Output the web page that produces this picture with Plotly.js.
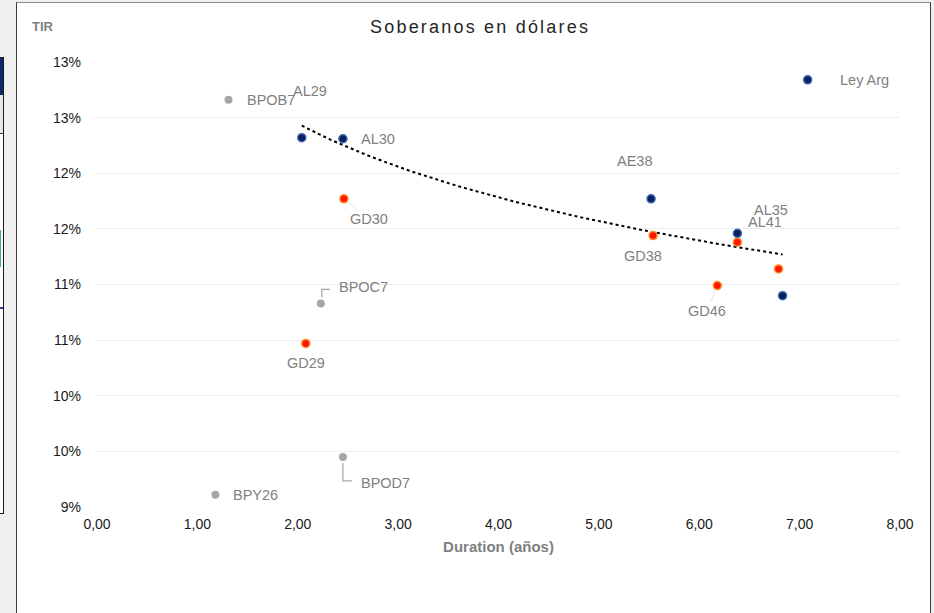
<!DOCTYPE html>
<html lang="es">
<head>
    <meta charset="UTF-8">
    <title>Soberanos en dólares</title>
    <script src="https://cdn.plot.ly/plotly-3.0.1.min.js"></script>
    <style>
        body {
            margin: 0;
            background-color: #f0f0f0;
            width: 934px;
            height: 613px;
            overflow: hidden;
            position: relative;
        }
        /* restos de la planilla a la izquierda */
        .sheet-box {
            position: absolute;
            left: -2px; top: 57px;
            width: 4px; height: 455px;
            border: 1px solid #1a1a1a;
            background: #ffffff;
        }
        .sheet-box .navy { position: absolute; left: 0; top: 0; width: 100%; height: 37px; background: #0b2a6b; }
        .sheet-box .gris { position: absolute; left: 0; top: 37px; width: 100%; height: 38px; background: #e8e8e8; border-bottom: 1px solid #333; }
        .sheet-box .verde { position: absolute; left: 0; top: 172px; width: 2px; height: 37px; background: #3cb371; }
        .sheet-box .linea { position: absolute; left: 0; top: 249px; width: 100%; height: 2px; background: #1f3c88; }
        .panel {
            position: absolute;
            left: 16px; top: 2px;
            width: 913px; height: 612px;
            background: #ffffff;
            border-left: 1px solid #3a3a3a;
            border-top: 1px solid #8a8a8a;
            border-right: 1px solid #3a3a3a;
        }
        #chart {
            position: absolute;
            left: 0; top: 0;
            width: 934px; height: 613px;
        }
        #chart .gtitle { letter-spacing: 2.2px; }
    </style>
</head>
<body>
    <div class="sheet-box"><div class="navy"></div><div class="gris"></div><div class="verde"></div><div class="linea"></div></div>
    <div class="panel"></div>
    <div id="chart"></div>

    <script>
        // Bonos ley argentina (azul)
        const azulNombres = ['AL29', 'AL30', 'AE38', 'AL35', 'AL41'];
        const azulDuration = [2.04, 2.45, 5.52, 6.38, 6.83];
        const azulTir = [12.32, 12.31, 11.77, 11.46, 10.90];

        // Globales (rojo)
        const rojoNombres = ['GD29', 'GD30', 'GD38', 'GD41', 'GD35', 'GD46'];
        const rojoDuration = [2.08, 2.46, 5.54, 6.38, 6.79, 6.18];
        const rojoTir = [10.47, 11.77, 11.44, 11.38, 11.14, 10.99];

        // BOPREAL / BCRA (gris)
        const grisNombres = ['BPOB7', 'BPOC7', 'BPOD7', 'BPY26'];
        const grisDuration = [1.31, 2.23, 2.45, 1.18];
        const grisTir = [12.66, 10.83, 9.45, 9.11];

        // referencia "Ley Arg"
        const leyNombre = ['Ley Arg'];
        const leyDuration = [7.08];
        const leyTir = [12.84];

        // ticks de los ejes
        const yTicks = [9, 9.5, 10, 10.5, 11, 11.5, 12, 12.5, 13];
        const xTicks = [0, 1, 2, 3, 4, 5, 6, 7, 8];

        // línea de tendencia logarítmica sobre la serie azul (como Excel)
        function ajusteLog(xs, ys) {
            const lx = xs.map(Math.log);
            const n = xs.length;
            const mx = lx.reduce((a, b) => a + b, 0) / n;
            const my = ys.reduce((a, b) => a + b, 0) / n;
            let sxy = 0, sxx = 0;
            lx.forEach((v, i) => { sxy += (v - mx) * (ys[i] - my); sxx += (v - mx) * (v - mx); });
            const b = sxy / sxx;
            return { a: my - b * mx, b: b };
        }
        const fit = ajusteLog(azulDuration, azulTir);
        const xMin = Math.min(...azulDuration), xMax = Math.max(...azulDuration);
        const tendX = [], tendY = [];
        for (let i = 0; i <= 60; i++) {
            const x = xMin + (xMax - xMin) * i / 60;
            tendX.push(x);
            tendY.push(fit.a + fit.b * Math.log(x));
        }

        const fuente = 'Liberation Sans, Arial, sans-serif';
        const grisTexto = '#808080';

        const traces = [
            {
                x: tendX, y: tendY, type: 'scatter', mode: 'lines',
                line: { color: '#000000', width: 2, dash: 'dot' },
                hoverinfo: 'skip'
            },
            {
                x: grisDuration, y: grisTir, text: grisNombres, type: 'scatter', mode: 'markers',
                marker: { color: '#a6a6a6', size: 8 }
            },
            {
                x: rojoDuration, y: rojoTir, text: rojoNombres, type: 'scatter', mode: 'markers',
                marker: { color: '#ff1500', size: 8, line: { color: '#ff8a1f', width: 1.5 } }
            },
            {
                x: azulDuration, y: azulTir, text: azulNombres, type: 'scatter', mode: 'markers',
                marker: { color: '#0a1f5c', size: 8, line: { color: '#3565b0', width: 1.5 } }
            },
            {
                x: leyDuration, y: leyTir, text: leyNombre, type: 'scatter', mode: 'markers',
                marker: { color: '#0a1f5c', size: 8, line: { color: '#3565b0', width: 1.5 } }
            }
        ];

        // posición de las etiquetas (px relativos al punto)
        const etiquetas = {
            'BPOB7': [17, 0, 'left'], 'AL29': [8, -47, 'center'], 'AL30': [16, 0, 'left'],
            'GD30': [25, 20, 'center', true], 'AE38': [-17, -38, 'center'], 'AL35': [34, -23, 'center'],
            'AL41': [-18, -74, 'center'], 'GD38': [-10, 20, 'center'], 'GD46': [-10, 25, 'center', true],
            'GD29': [0, 20, 'center'], 'BPOC7': [16, -16, 'left'], 'BPOD7': [16, 26, 'left'],
            'BPY26': [16, 0, 'left'], 'Ley Arg': [30, 0, 'left']
        };

        const annotations = [];
        [[azulNombres, azulDuration, azulTir], [rojoNombres, rojoDuration, rojoTir],
         [grisNombres, grisDuration, grisTir], [leyNombre, leyDuration, leyTir]].forEach(s => {
            s[0].forEach((nombre, i) => {
                const e = etiquetas[nombre];
                if (!e) return;
                const ann = {
                    x: s[1][i], y: s[2][i], xref: 'x', yref: 'y', text: nombre,
                    font: { family: fuente, size: 14.5, color: grisTexto }
                };
                if (e[3]) {
                    Object.assign(ann, { showarrow: true, ax: e[0], ay: e[1], arrowhead: 0,
                        arrowwidth: 1, arrowcolor: '#e3e3e3', standoff: 4 });
                } else {
                    Object.assign(ann, { showarrow: false, xanchor: e[2], yanchor: 'middle',
                        xshift: e[0], yshift: -e[1] });
                }
                annotations.push(ann);
            });
        });

        annotations.push({
            xref: 'paper', yref: 'paper', x: -0.083, y: 1.1, text: '<b>TIR</b>', showarrow: false,
            font: { family: fuente, size: 13, color: '#7f7f7f' }
        });

        // conectores en codo para BPOC7 y BPOD7
        const shapes = [
            {
                type: 'path', xref: 'x', yref: 'y', xsizemode: 'pixel', ysizemode: 'pixel',
                xanchor: grisDuration[1], yanchor: grisTir[1],
                path: 'M 1 6 L 1 14 L 9 14', line: { color: '#a6a6a6', width: 1.2 }
            },
            {
                type: 'path', xref: 'x', yref: 'y', xsizemode: 'pixel', ysizemode: 'pixel',
                xanchor: grisDuration[2], yanchor: grisTir[2],
                path: 'M 0 -6 L 0 -24 L 9 -24', line: { color: '#a6a6a6', width: 1.2 }
            }
        ];

        const layout = {
            width: 934, height: 613, autosize: false,
            margin: { l: 97, r: 34, t: 62, b: 106 },
            paper_bgcolor: 'rgba(0,0,0,0)', plot_bgcolor: 'rgba(0,0,0,0)',
            separators: ',.',
            showlegend: false,
            title: {
                text: 'Soberanos en dólares', x: 0.514, xanchor: 'center', y: 0.956, yanchor: 'middle',
                font: { family: fuente, size: 18, color: '#262626' }
            },
            xaxis: {
                range: [0, 8], tickvals: xTicks, tickformat: '.2f',
                showgrid: false, zeroline: false, showline: false, ticks: '',
                ticklabelstandoff: 7,
                tickfont: { family: fuente, size: 14, color: '#1a1a1a' },
                title: { text: 'Duration (años)', standoff: 10,
                    font: { family: fuente, size: 15, color: '#7f7f7f', weight: 'bold' } }
            },
            yaxis: {
                range: [9, 13], tickvals: yTicks, ticktext: yTicks.map(v => Math.round(v) + '%'),
                showgrid: true, gridcolor: '#eeeeee', gridwidth: 1, zeroline: false, showline: false,
                ticks: '', ticklabelstandoff: 15,
                tickfont: { family: fuente, size: 14, color: '#1a1a1a' }
            },
            annotations: annotations,
            shapes: shapes,
            hovermode: 'closest'
        };

        Plotly.newPlot('chart', traces, layout, { displayModeBar: false, staticPlot: true });
    </script>
</body>
</html>
